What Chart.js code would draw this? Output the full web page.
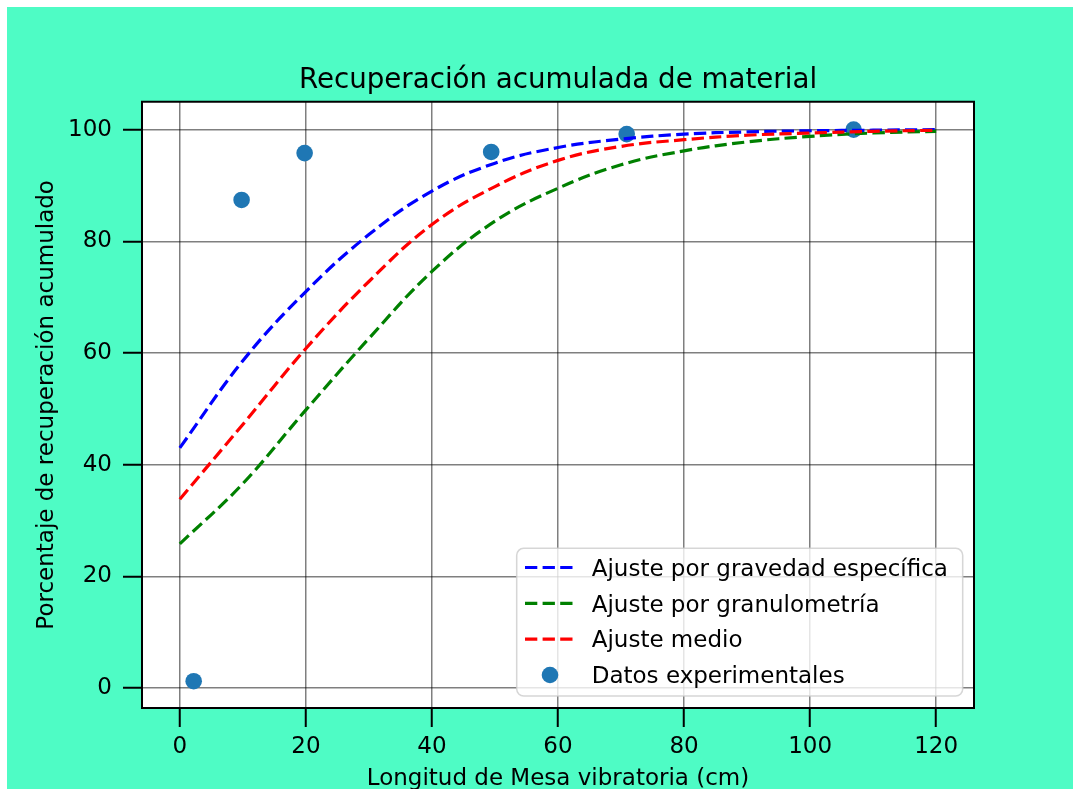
<!DOCTYPE html>
<html>
<head>
<meta charset="utf-8">
<script src="https://cdn.jsdelivr.net/npm/chart.js@4"></script>
<style>
  html, body { margin: 0; padding: 0; background: #fff; overflow: hidden; }
  #wrap { position: absolute; left: 7px; top: 7px; width: 1066px; height: 800px; background: rgb(78, 252, 197); }
</style>
</head>
<body>
<div id="wrap"><canvas id="recuperacion_chart" width="1066" height="800"></canvas></div>
<script>
var fontFamily = "'DejaVu Sans', 'Liberation Sans', sans-serif";

// curvas de ajuste, leidas cada 10 cm
var fitX = [0, 10, 20, 30, 40, 50, 60, 70, 80, 90, 100, 110, 120];
var fitGravedad = [43.0, 58.6, 71.0, 81.2, 89.0, 94.0, 96.8, 98.3, 99.2, 99.6, 99.8, 99.9, 100.0];
var fitGranulometria = [25.8, 36.6, 49.8, 62.6, 74.6, 83.6, 89.5, 93.7, 96.2, 97.8, 98.8, 99.4, 99.7];
var fitMedio = [33.8, 47.2, 60.8, 72.8, 83.0, 89.8, 94.5, 97.0, 98.2, 99.0, 99.4, 99.7, 99.9];

// datos experimentales
var expX = [2.2, 9.8, 19.8, 49.4, 70.9, 106.9];
var expY = [1.2, 87.4, 95.8, 96.0, 99.2, 100.0];

var xTicks = [0, 20, 40, 60, 80, 100, 120];
var yTicks = [0, 20, 40, 60, 80, 100];

function toPoints(xs, ys) {
    var pts = [];
    for (var i = 0; i < xs.length; i++) {
        pts.push({x: xs[i], y: ys[i]});
    }
    return pts;
}

function fitDataset(label, color, values, order) {
    return {
        type: 'line',
        label: label,
        data: toPoints(fitX, values),
        borderColor: color,
        backgroundColor: color,
        borderWidth: 3.2,
        borderDash: [12.3, 5.3],
        pointRadius: 0,
        fill: false,
        tension: 0.4,
        order: order
    };
}

var frameAndLegend = {
    id: 'frameAndLegend',
    beforeDraw: function (chart) {
        var a = chart.chartArea;
        chart.ctx.save();
        chart.ctx.fillStyle = '#fff';
        chart.ctx.fillRect(a.left, a.top, a.right - a.left, a.bottom - a.top);
        chart.ctx.restore();
    },
    afterDraw: function (chart) {
        var ctx = chart.ctx;
        var area = chart.chartArea;
        ctx.save();
        ctx.strokeStyle = '#000';
        ctx.lineWidth = 2;
        ctx.strokeRect(area.left, area.top, area.right - area.left, area.bottom - area.top);

        // leyenda
        var bx = 509.7, by = 541.3, bw = 446, bh = 147.7;
        ctx.beginPath();
        ctx.roundRect(bx, by, bw, bh, 7);
        ctx.fillStyle = 'rgba(255,255,255,0.8)';
        ctx.fill();
        ctx.strokeStyle = 'rgba(204,204,204,0.8)';
        ctx.lineWidth = 1.5;
        ctx.stroke();

        var rows = [560.5, 596.3, 632.2, 668];
        ctx.font = '23px ' + fontFamily;
        ctx.textBaseline = 'alphabetic';
        ctx.textAlign = 'left';
        chart.data.datasets.forEach(function (ds, i) {
            var y = rows[i];
            if (ds.type === 'line') {
                ctx.beginPath();
                ctx.setLineDash(ds.borderDash);
                ctx.strokeStyle = ds.borderColor;
                ctx.lineWidth = ds.borderWidth;
                ctx.moveTo(518, y);
                ctx.lineTo(565.7, y);
                ctx.stroke();
                ctx.setLineDash([]);
            } else {
                ctx.beginPath();
                ctx.fillStyle = ds.backgroundColor;
                ctx.arc(543, y, 8.3, 0, Math.PI * 2);
                ctx.fill();
            }
            ctx.fillStyle = '#000';
            ctx.fillText(ds.label, 584.7, y + 8.2);
        });
        ctx.restore();
    }
};

var chart = new Chart('recuperacion_chart', {
    type: 'line',
    data: {
        datasets: [
            fitDataset('Ajuste por gravedad específica', '#0000ff', fitGravedad, 2),
            fitDataset('Ajuste por granulometría', '#008000', fitGranulometria, 1),
            fitDataset('Ajuste medio', '#ff0000', fitMedio, 0),
            {
                type: 'scatter',
                label: 'Datos experimentales',
                data: toPoints(expX, expY),
                backgroundColor: '#1f77b4',
                borderColor: '#1f77b4',
                borderWidth: 0,
                pointRadius: 8.3,
                showLine: false,
                order: 3
            }
        ]
    },
    options: {
        responsive: false,
        animation: false,
        devicePixelRatio: 1,
        layout: {padding: {left: 0, right: 99, top: 0, bottom: 0}},
        plugins: {
            legend: {display: false},
            tooltip: {enabled: false},
            title: {
                display: true,
                text: 'Recuperación acumulada de material',
                color: '#000',
                fullSize: false,
                font: {family: fontFamily, size: 27.7, weight: 'normal'},
                padding: {top: 57.4, bottom: 4.1}
            }
        },
        scales: {
            x: {
                type: 'linear',
                min: -6,
                max: 126,
                afterBuildTicks: function (scale) {
                    scale.ticks = xTicks.map(function (v) { return {value: v}; });
                },
                afterFit: function (scale) { scale.height = 99; },
                border: {display: false},
                grid: {color: 'rgba(0,0,0,0.5)', lineWidth: 1.5, tickColor: '#000', tickWidth: 2, tickLength: 19},
                ticks: {color: '#000', padding: 6, maxRotation: 0, font: {family: fontFamily, size: 23}},
                title: {
                    display: true,
                    text: 'Longitud de Mesa vibratoria (cm)',
                    color: '#000',
                    font: {family: fontFamily, size: 23},
                    padding: {top: 0, bottom: 14.2}
                }
            },
            y: {
                type: 'linear',
                min: -3.6,
                max: 105.0,
                afterBuildTicks: function (scale) {
                    scale.ticks = yTicks.map(function (v) { return {value: v}; });
                },
                afterFit: function (scale) { scale.width = 135; },
                border: {display: false},
                grid: {color: 'rgba(0,0,0,0.5)', lineWidth: 1.5, tickColor: '#000', tickWidth: 2, tickLength: 19},
                ticks: {color: '#000', padding: 11, font: {family: fontFamily, size: 23}},
                title: {
                    display: true,
                    text: 'Porcentaje de recuperación acumulado',
                    color: '#000',
                    font: {family: fontFamily, size: 23},
                    padding: {top: 26.7, bottom: 0}
                }
            }
        }
    },
    plugins: [frameAndLegend]
});
</script>
</body>
</html>
